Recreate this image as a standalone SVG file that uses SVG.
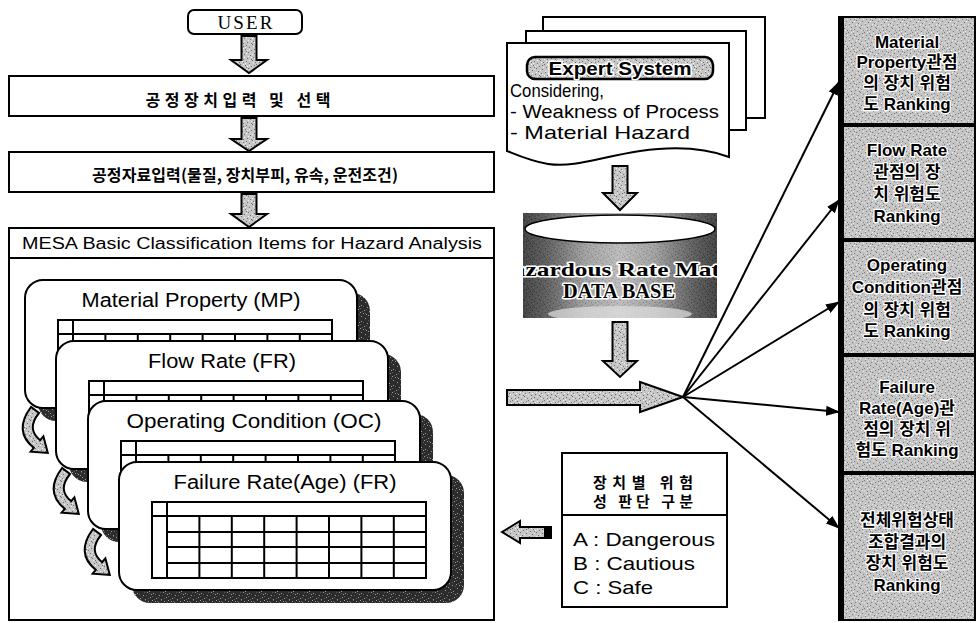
<svg xmlns="http://www.w3.org/2000/svg" width="977" height="623" viewBox="0 0 977 623">
  <defs>
    <style>
      .box{fill:#fff;stroke:#000;stroke-width:2}
      .blk{fill:url(#grain);stroke:#000;stroke-width:2;stroke-linejoin:miter}
      .kr{font-family:"Noto Sans CJK KR","Liberation Sans",sans-serif;font-weight:700;fill:#000}
      .sans{font-family:"Liberation Sans","Noto Sans CJK KR",sans-serif;fill:#000}
      .serif{font-family:"Liberation Serif","Noto Sans CJK KR",serif;fill:#000}
      .halo{paint-order:stroke;stroke:#fff;stroke-linejoin:round}
      .rank{font-family:"Liberation Sans","Noto Sans CJK KR",sans-serif;font-weight:700;font-size:17px;text-anchor:middle;paint-order:stroke;stroke:#fff;stroke-width:2.5;stroke-linejoin:round;fill:#000}
      .title{font-family:"Liberation Sans","Noto Sans CJK KR",sans-serif;font-size:20px;text-anchor:middle;fill:#000}
      .tl{fill:none;stroke:#000;stroke-width:2}
      .fan{fill:none;stroke:#000;stroke-width:2;marker-end:url(#tip)}
    </style>
    <!-- scattered halftone greys -->
    <pattern id="grain" width="16" height="16" patternUnits="userSpaceOnUse">
      <rect width="16" height="16" fill="#c6c6c6"/>
      <path fill="#707070" d="M0 0h1v1H0zM5 1h1v1H5zM11 2h1v1h-1zM2 3h1v1H2zM8 4h1v1H8zM14 5h1v1h-1zM4 6h1v1H4zM10 7h1v1h-1zM1 8h1v1H1zM13 9h1v1h-1zM7 10h1v1H7zM3 11h1v1H3zM12 12h1v1h-1zM6 13h1v1H6zM15 14h1v1h-1zM9 15h1v1H9zM14 1h1v1h-1zM6 3h1v1H6zM11 11h1v1h-1zM3 14h1v1H3z"/>
      <path fill="#f4f4f4" d="M3 0h1v1H3zM9 1h1v1H9zM15 3h1v1h-1zM6 5h1v1H6zM12 6h1v1h-1zM1 7h1v1H1zM8 8h1v1H8zM4 9h1v1H4zM11 9h1v1h-1zM14 10h1v1h-1zM0 11h1v1H0zM9 12h1v1H9zM5 15h1v1H5zM13 14h1v1h-1zM2 13h1v1H2zM7 2h1v1H7z"/>
    </pattern>
    <pattern id="grain-box" width="16" height="16" patternUnits="userSpaceOnUse">
      <rect width="16" height="16" fill="#c4c4c4"/>
      <path fill="#7c7c7c" d="M0 0h1v1H0zM5 1h1v1H5zM11 2h1v1h-1zM2 3h1v1H2zM8 4h1v1H8zM14 5h1v1h-1zM4 6h1v1H4zM10 7h1v1h-1zM1 8h1v1H1zM13 9h1v1h-1zM7 10h1v1H7zM3 11h1v1H3zM12 12h1v1h-1zM6 13h1v1H6zM15 14h1v1h-1zM9 15h1v1H9zM14 1h1v1h-1zM6 3h1v1H6zM11 11h1v1h-1zM3 14h1v1H3z"/>
      <path fill="#ececec" d="M3 0h1v1H3zM9 1h1v1H9zM15 3h1v1h-1zM6 5h1v1H6zM12 6h1v1h-1zM1 7h1v1H1zM8 8h1v1H8zM4 9h1v1H4zM11 9h1v1h-1zM14 10h1v1h-1zM0 11h1v1H0zM9 12h1v1H9zM5 15h1v1H5zM13 14h1v1h-1zM2 13h1v1H2zM7 2h1v1H7z"/>
    </pattern>
    <pattern id="grain-dark" width="16" height="16" patternUnits="userSpaceOnUse">
      <rect width="16" height="16" fill="#2c2c2c"/>
      <path fill="#9c9c9c" d="M3 0h1v1H3zM9 1h1v1H9zM15 3h1v1h-1zM6 5h1v1H6zM12 6h1v1h-1zM1 7h1v1H1zM8 8h1v1H8zM4 9h1v1H4zM11 9h1v1h-1zM14 10h1v1h-1zM0 11h1v1H0zM9 12h1v1H9zM5 15h1v1H5zM13 14h1v1h-1zM2 13h1v1H2zM7 2h1v1H7z"/>
      <path fill="#5e5e5e" d="M0 0h1v1H0zM5 1h1v1H5zM11 2h1v1h-1zM2 3h1v1H2zM8 4h1v1H8zM14 5h1v1h-1zM4 6h1v1H4zM10 7h1v1h-1zM1 8h1v1H1zM13 9h1v1h-1zM7 10h1v1H7z"/>
    </pattern>
    <linearGradient id="cyl" x1="0" x2="1" y1="0" y2="0">
      <stop offset="0" stop-color="#000"/>
      <stop offset="0.12" stop-color="#2a2a2a"/>
      <stop offset="0.32" stop-color="#8c8c8c"/>
      <stop offset="0.5" stop-color="#b5b5b5"/>
      <stop offset="0.68" stop-color="#8c8c8c"/>
      <stop offset="0.88" stop-color="#2a2a2a"/>
      <stop offset="1" stop-color="#000"/>
    </linearGradient>
    <clipPath id="cyl-clip">
      <rect x="523" y="213" width="194" height="105"/>
    </clipPath>
    <marker id="tip" viewBox="0 0 14 10" refX="13" refY="5" markerWidth="14" markerHeight="10" markerUnits="userSpaceOnUse" orient="auto">
      <path d="M0,0 L14,5 L0,10 Z" fill="#000"/>
    </marker>
    <!-- curved hand-off arrow between stacked sheets -->
    <path id="hook" d="M21,5 Q8,21 22.2,32.2 L25.4,28.3 L29.8,45 L12.6,43.7 L15.8,39.9 Q-5,23 13,-1 Z"/>
    <!-- 9-column data grid printed on each sheet -->
    <g id="grid">
      <rect class="tl" x="0" y="0" width="274" height="76"/>
      <path class="tl" d="M15,0V76M0,14H274M15,30H274M15,45H274M15,61H274M47.4,14V76M79.8,14V76M112.2,14V76M144.6,14V76M177,14V76M209.4,14V76M241.8,14V76"/>
    </g>
  </defs>

  <rect width="977" height="623" fill="#fff"/>

  <!-- left column: input flow -->
  <g id="user">
    <rect class="box" x="188" y="10" width="114" height="24" rx="6"/>
    <text class="serif" x="245" y="29" font-size="19" text-anchor="middle" textLength="55">USER</text>
  </g>
  <g id="equip-input">
    <rect class="box" x="9" y="76" width="485" height="40"/>
    <text class="kr" x="238" y="106" font-size="16" text-anchor="middle" textLength="185">공정장치입력 및 선택</text>
  </g>
  <g id="process-data">
    <rect class="box" x="9" y="152" width="485" height="40"/>
    <text class="kr" x="245" y="181" font-size="16" text-anchor="middle" textLength="306">공정자료입력(물질, 장치부피, 유속, 운전조건)</text>
  </g>

  <g id="mesa">
    <rect class="box" x="9" y="228" width="485" height="392"/>
    <line x1="9" y1="258" x2="494" y2="258" stroke="#000" stroke-width="2"/>
    <text class="sans" x="252" y="249" font-size="16" text-anchor="middle" textLength="460" lengthAdjust="spacingAndGlyphs">MESA Basic Classification Items for Hazard Analysis</text>
  </g>

  <g id="card-mp">
    <rect x="38" y="293" width="332" height="128" rx="18" fill="url(#grain-dark)"/>
    <rect class="box" x="25" y="280" width="332" height="128" rx="18"/>
    <text class="title" x="191" y="307" textLength="219" lengthAdjust="spacingAndGlyphs">Material Property (MP)</text>
    <use href="#grid" x="58" y="320"/>
  </g>
  <g id="card-fr">
    <rect x="69" y="354" width="332" height="128" rx="18" fill="url(#grain-dark)"/>
    <rect class="box" x="56" y="341" width="332" height="128" rx="18"/>
    <text class="title" x="222" y="368" textLength="148" lengthAdjust="spacingAndGlyphs">Flow Rate (FR)</text>
    <use href="#grid" x="89" y="381"/>
  </g>
  <g id="card-oc">
    <rect x="101" y="414" width="332" height="128" rx="18" fill="url(#grain-dark)"/>
    <rect class="box" x="88" y="401" width="332" height="128" rx="18"/>
    <text class="title" x="254" y="428" textLength="255" lengthAdjust="spacingAndGlyphs">Operating Condition (OC)</text>
    <use href="#grid" x="121" y="441"/>
  </g>
  <g id="card-fra">
    <rect x="132" y="475" width="332" height="128" rx="18" fill="url(#grain-dark)"/>
    <rect class="box" x="119" y="462" width="332" height="128" rx="18"/>
    <text class="title" x="285" y="489" textLength="223" lengthAdjust="spacingAndGlyphs">Failure Rate(Age) (FR)</text>
    <use href="#grid" x="152" y="502"/>
  </g>

  <!-- expert system sheets -->
  <g id="expert">
    <rect class="box" x="543" y="17" width="222" height="101"/>
    <rect class="box" x="526" y="31" width="220" height="99"/>
    <path class="box" d="M507,43 H729 V157 C705,148 675,146 640,151 C600,157 575,168 548,164 C530,161 517,155 507,151 Z"/>
    <rect x="527" y="57" width="186" height="22" rx="8" fill="url(#grain)" stroke="#000" stroke-width="2.5"/>
    <text class="sans halo" x="620" y="75" font-size="19" font-weight="700" text-anchor="middle" textLength="143" lengthAdjust="spacingAndGlyphs" stroke-width="3">Expert System</text>
    <text class="sans" x="510" y="97" font-size="19" textLength="94" lengthAdjust="spacingAndGlyphs">Considering,</text>
    <text class="sans" x="510" y="118" font-size="19" textLength="209" lengthAdjust="spacingAndGlyphs">- Weakness of Process</text>
    <text class="sans" x="510" y="139" font-size="19" textLength="180" lengthAdjust="spacingAndGlyphs">- Material Hazard</text>
  </g>

  <!-- hazard matrix database -->
  <g id="database">
    <g clip-path="url(#cyl-clip)">
      <rect x="523" y="213" width="194" height="105" fill="url(#cyl)"/>
      <rect x="523" y="213" width="194" height="105" fill="url(#grain)" opacity="0.35"/>
      <ellipse cx="620" cy="314" rx="72" ry="8" fill="#e0e0e0" opacity="0.7"/>
      <ellipse cx="620" cy="229" rx="95" ry="14" fill="#fff" stroke="#000" stroke-width="1.5"/>
      <text class="serif halo" x="622" y="276" font-size="19" font-weight="700" text-anchor="middle" textLength="258" lengthAdjust="spacingAndGlyphs" stroke-width="3">Hazardous Rate Matrix</text>
      <text class="serif halo" x="619" y="298" font-size="20" font-weight="700" text-anchor="middle" textLength="112" lengthAdjust="spacingAndGlyphs" stroke-width="3">DATA BASE</text>
    </g>
  </g>

  <!-- judgement legend -->
  <g id="legend">
    <rect class="box" x="562" y="453" width="165" height="154"/>
    <line x1="562" y1="515" x2="727" y2="515" stroke="#000" stroke-width="2"/>
    <text class="kr" x="643" y="488" font-size="15" text-anchor="middle" textLength="100">장치별 위험</text>
    <text class="kr" x="643" y="507" font-size="15" text-anchor="middle" textLength="100">성 판단 구분</text>
    <text class="sans" x="573" y="546" font-size="19" textLength="142" lengthAdjust="spacingAndGlyphs">A : Dangerous</text>
    <text class="sans" x="573" y="570" font-size="19" textLength="122" lengthAdjust="spacingAndGlyphs">B : Cautious</text>
    <text class="sans" x="573" y="594" font-size="19" textLength="80" lengthAdjust="spacingAndGlyphs">C : Safe</text>
  </g>

  <!-- ranking results -->
  <g id="rank-mp">
    <rect x="842" y="17" width="133" height="108" fill="url(#grain-box)" stroke="#000" stroke-width="2"/>
    <text class="rank" x="907" y="48">Material</text>
    <text class="rank" x="907" y="68">Property관점</text>
    <text class="rank" x="907" y="89">의 장치 위험</text>
    <text class="rank" x="907" y="110">도 Ranking</text>
  </g>
  <g id="rank-fr">
    <rect x="842" y="125" width="133" height="115" fill="url(#grain-box)" stroke="#000" stroke-width="2"/>
    <text class="rank" x="907" y="156">Flow Rate</text>
    <text class="rank" x="907" y="178">관점의 장</text>
    <text class="rank" x="907" y="200">치 위험도</text>
    <text class="rank" x="907" y="222">Ranking</text>
  </g>
  <g id="rank-oc">
    <rect x="842" y="240" width="133" height="115" fill="url(#grain-box)" stroke="#000" stroke-width="2"/>
    <text class="rank" x="907" y="271">Operating</text>
    <text class="rank" x="907" y="293">Condition관점</text>
    <text class="rank" x="907" y="316">의 장치 위험</text>
    <text class="rank" x="907" y="337">도 Ranking</text>
  </g>
  <g id="rank-fra">
    <rect x="842" y="355" width="133" height="118" fill="url(#grain-box)" stroke="#000" stroke-width="2"/>
    <text class="rank" x="907" y="393">Failure</text>
    <text class="rank" x="907" y="414">Rate(Age)관</text>
    <text class="rank" x="907" y="435">점의 장치 위</text>
    <text class="rank" x="907" y="456">험도 Ranking</text>
  </g>
  <g id="rank-total">
    <rect x="842" y="473" width="133" height="147" fill="url(#grain-box)" stroke="#000" stroke-width="2"/>
    <text class="rank" x="907" y="526">전체위험상태</text>
    <text class="rank" x="907" y="548">조합결과의</text>
    <text class="rank" x="907" y="569">장치 위험도</text>
    <text class="rank" x="907" y="591">Ranking</text>
  </g>
  <g id="rank-frame" fill="#000">
    <rect x="838" y="16" width="6" height="605"/>
    <rect x="842" y="123" width="134" height="4"/>
    <rect x="842" y="238" width="134" height="4"/>
    <rect x="842" y="353" width="134" height="4"/>
    <rect x="842" y="471" width="134" height="4"/>
  </g>

  <!-- connectors -->
  <g id="connectors">
    <path class="blk" d="M241.5,36 H256.5 V60 H267 L249,73 L231,60 H241.5 Z"/>
    <path class="blk" d="M241.5,118 H256.5 V139 H267 L249,151 L231,139 H241.5 Z"/>
    <path class="blk" d="M241.5,194 H256.5 V214 H267 L249,227 L231,214 H241.5 Z"/>
    <path class="blk" d="M612.5,166 H627.5 V193 H637 L620,210 L603,193 H612.5 Z"/>
    <path class="blk" d="M612.5,322 H627.5 V361 H637 L620,377 L603,361 H612.5 Z"/>
    <path class="blk" d="M507,390 H640 V382 L683,397 L640,412 V405 H507 Z"/>
    <path class="blk" d="M502,532 L520,521 V527 H545 V538 H520 V543 Z"/>
    <rect x="545" y="526" width="7" height="13" fill="#000"/>
    <use href="#hook" class="blk" x="18" y="408"/>
    <use href="#hook" class="blk" x="49" y="469"/>
    <use href="#hook" class="blk" x="80" y="530"/>
    <line class="fan" x1="683" y1="397" x2="839" y2="82"/>
    <line class="fan" x1="683" y1="397" x2="839" y2="200"/>
    <line class="fan" x1="683" y1="397" x2="839" y2="302"/>
    <line class="fan" x1="683" y1="397" x2="839" y2="412"/>
    <line class="fan" x1="683" y1="397" x2="839" y2="528"/>
  </g>
</svg>
